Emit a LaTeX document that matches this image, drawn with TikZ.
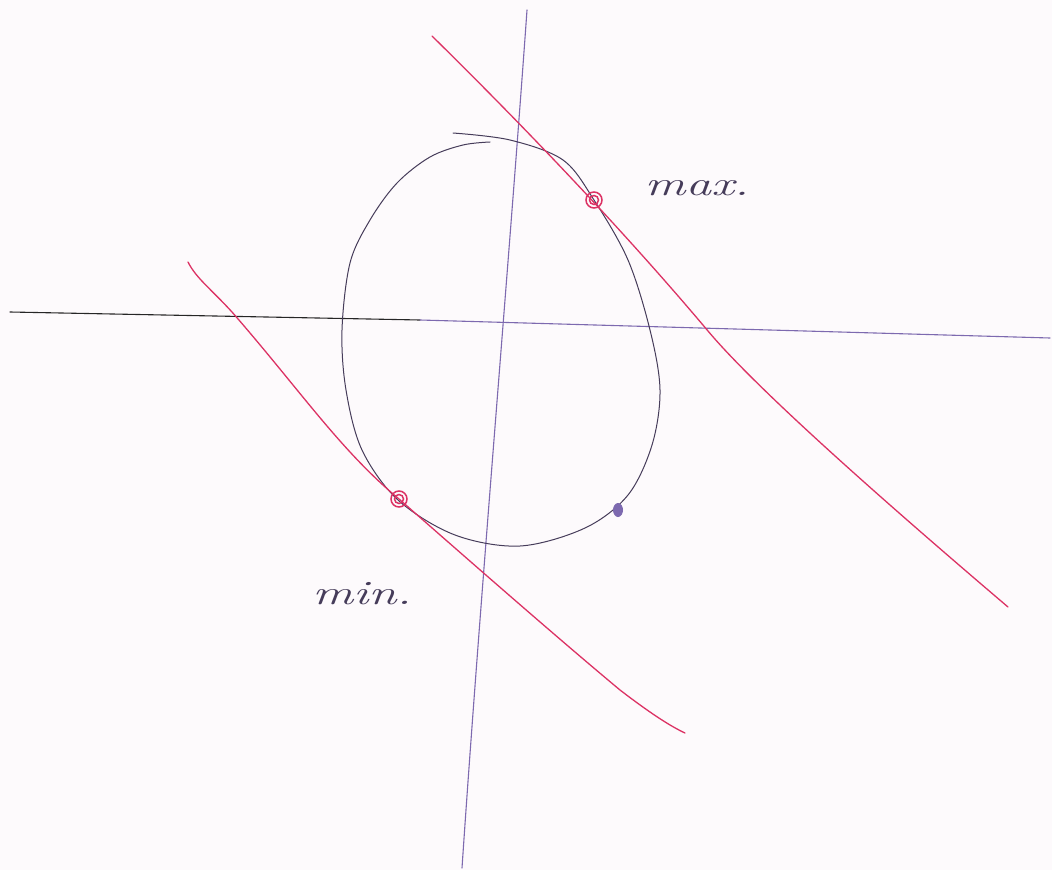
\documentclass[tikz,border=0pt]{standalone}
\usetikzlibrary{calc}
\definecolor{penred}{RGB}{220,50,100}
\definecolor{penpurple}{RGB}{125,105,175}
\definecolor{pendark}{RGB}{70,60,90}
\definecolor{paper}{RGB}{253,250,252}
\begin{document}
\begin{tikzpicture}[x=1pt,y=-1pt,
  redline/.style={draw=penred,line width=1.3pt,line cap=round},
  axisline/.style={draw=penpurple,line width=1.1pt,line cap=round},
  curveline/.style={draw=pendark,line width=1pt,line cap=round},
  ringmark/.style={circle,draw=penred,line width=1.5pt,minimum size=16pt,inner sep=0pt},
  handlabel/.style={text=pendark,font=\itshape\fontsize{34}{34}\selectfont,inner sep=0pt,xscale=1.5}]
\fill[paper] (0,0) rectangle (1052,870);
\useasboundingbox (0,0) rectangle (1052,870);
% axes
\coordinate (vtop) at (527,10);
\coordinate (vbot) at (462,868);
\coordinate (hleft) at (10,312);
\coordinate (hmid) at (420,320);
\coordinate (hright) at (1050,338);
\draw[axisline] (vtop) .. controls (510,250) and (480,600) .. (vbot);
\draw[axisline,draw=black!85] (hleft) -- (hmid);
\draw[axisline,draw=penpurple] (hmid) -- (hright);
% egg curve (open, overlapping at the top)
\draw[curveline] plot[smooth,tension=0.55] coordinates {
 (453,133) (510,140) (563,160) (594,200) (628,260) (650,330) (660,390)
 (652,445) (628,495) (585,528) (520,546) (455,535) (398,500) (362,450)
 (346,390) (342,330) (350,263) (370,220) (397,183) (430,157) (463,145) (490,142)};
% tangent lines
\coordinate (tatop) at (432,36);
\coordinate (tamid) at (708,331);
\coordinate (taend) at (1008,607);
\draw[redline] (tatop) .. controls (560,162) and (650,262) .. (tamid)
  .. controls (760,393) and (900,515) .. (taend);
\coordinate (tbtop) at (188,262);
\coordinate (tbax) at (232,312);
\coordinate (tbmin) at (399,499);
\coordinate (tbmid) at (620,690);
\coordinate (tbend) at (685,733);
\draw[redline] (tbtop) .. controls (196,278) and (210,288) .. (tbax)
  .. controls (300,390) and (340,450) .. (tbmin)
  .. controls (480,570) and (560,640) .. (tbmid)
  .. controls (650,713) and (670,726) .. (tbend);
% marked points
\node[ringmark] (pmax) at (594,200) {};
\node[ringmark,minimum size=9pt] at (594,200) {};
\node[ringmark] (pmin) at (399,499) {};
\node[ringmark,minimum size=9pt] at (399,499) {};
\fill[penpurple] (618,510) ellipse (5pt and 7pt);
% labels
\node[handlabel] (lmax) at (697,188) {max.};
\node[handlabel] (lmin) at (362,594) {min.};
\end{tikzpicture}
\end{document}
